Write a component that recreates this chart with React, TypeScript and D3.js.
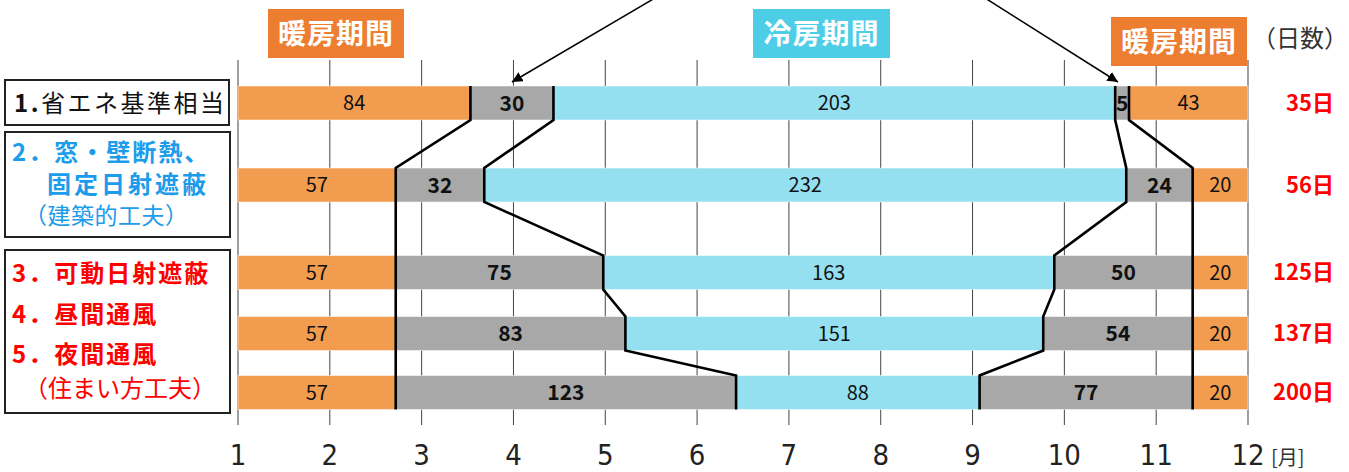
import React from "react";
import * as d3 from "d3";

// ---- data ----
const rowTotals = ["35日", "56日", "125日", "137日", "200日"];
const heating1 = [84, 57, 57, 57, 57];
const inter1 = [30, 32, 75, 83, 123];
const cooling = [203, 232, 163, 151, 88];
const inter2 = [5, 24, 50, 54, 77];
const heating2 = [43, 20, 20, 20, 20];
const monthTicks = [1, 2, 3, 4, 5, 6, 7, 8, 9, 10, 11, 12];
const arrowTargets = [99, 318];

// ---- layout ----
const W = 1349;
const H = 472;
const rowSlots = [0, 1.367, 2.825, 3.842, 4.825];
const barH = 34;
const segColors = ["#F29C50", "#A8A8A8", "#94E0F0", "#A8A8A8", "#F29C50"];
const segBold = [false, true, false, true, false];
const JP = "'Noto Sans CJK JP', 'Noto Sans', sans-serif";

export default function App() {
  const x = d3.scaleLinear().domain([0, 365]).range([238, 1248]);
  const xm = d3.scaleLinear().domain([1, 12]).range([238, 1248]);
  const y = d3.scaleLinear().domain([0, 1]).range([103, 163]);

  const series = [heating1, inter1, cooling, inter2, heating2];
  const rows = rowTotals.map((_, i) => {
    let acc = 0;
    const segs = series.map((s, k) => {
      const v = s[i];
      const seg = { k, v, x0: acc, x1: acc + v };
      acc += v;
      return seg;
    });
    return { i, cy: y(rowSlots[i]), segs };
  });

  const line = d3.line<[number, number]>().x((d) => d[0]).y((d) => d[1]);
  const boundaries = [1, 2, 3, 4].map((b) =>
    rows.flatMap((r) => {
      const bx = x(r.segs[b].x0);
      return [
        [bx, r.cy - barH / 2] as [number, number],
        [bx, r.cy + barH / 2] as [number, number],
      ];
    })
  );

  const arrowStarts: [number, number][] = [
    [655, -2],
    [985, -2],
  ];

  return (
    <svg width={W} height={H} style={{ position: "absolute", left: 0, top: 0 }}>
      <defs>
        <marker id="ah" viewBox="0 0 10 10" refX="10" refY="5" markerWidth="7" markerHeight="7" orient="auto">
          <path d="M0,0 L10,5 L0,10 z" fill="#000" />
        </marker>
      </defs>
      <rect width={W} height={H} fill="#fff" />
      {/* gridlines */}
      {monthTicks.map((m) => (
        <line
          key={m}
          x1={xm(m)}
          x2={xm(m)}
          y1={60}
          y2={425}
          stroke={m === 1 || m === 12 ? "#888" : "#444"}
          strokeWidth={m === 1 || m === 12 ? 1.6 : 1}
        />
      ))}
      {/* bars */}
      {rows.map((r) =>
        r.segs.map((s) => (
          <rect
            key={`${r.i}-${s.k}`}
            x={x(s.x0)}
            y={r.cy - barH / 2}
            width={x(s.x1) - x(s.x0)}
            height={barH}
            fill={segColors[s.k]}
            stroke="#fff"
            strokeOpacity={0.5}
            strokeWidth={1}
          />
        ))
      )}
      {/* bar labels */}
      {rows.map((r) =>
        r.segs.map((s) => (
          <text
            key={`t${r.i}-${s.k}`}
            x={(x(s.x0) + x(s.x1)) / 2}
            y={r.cy}
            dy="0.36em"
            textAnchor="middle"
            fontFamily={JP}
            fontSize={segBold[s.k] ? 21 : 20}
            fontWeight={segBold[s.k] ? 700 : 400}
            fill="#111"
          >
            {s.v}
          </text>
        ))
      )}
      {/* boundary lines */}
      {boundaries.map((pts, b) => (
        <path key={b} d={line(pts) || ""} fill="none" stroke="#000" strokeWidth={2.6} strokeLinejoin="miter" />
      ))}
      {/* arrows */}
      {arrowTargets.map((d, i) => (
        <line
          key={i}
          x1={arrowStarts[i][0]}
          y1={arrowStarts[i][1]}
          x2={x(d)}
          y2={82}
          stroke="#000"
          strokeWidth={1.5}
          markerEnd="url(#ah)"
        />
      ))}
      {/* period labels */}
      <rect x={268} y={9} width={136} height={49} fill="#ED7D31" />
      <text x={336} y={33.5} dy="0.36em" textAnchor="middle" fontFamily={JP} fontSize={28} fontWeight={700} fill="#fff" letterSpacing={1}>
        暖房期間
      </text>
      <rect x={753} y={9} width={137} height={49} fill="#4DCDE6" />
      <text x={821.5} y={33.5} dy="0.36em" textAnchor="middle" fontFamily={JP} fontSize={28} fontWeight={700} fill="#fff" letterSpacing={1}>
        冷房期間
      </text>
      <rect x={1111} y={17} width={136} height={49} fill="#ED7D31" />
      <text x={1179} y={41.5} dy="0.36em" textAnchor="middle" fontFamily={JP} fontSize={28} fontWeight={700} fill="#fff" letterSpacing={1}>
        暖房期間
      </text>
      <text x={1252} y={38} dy="0.36em" fontFamily={JP} fontSize={24} fill="#333">
        （日数）
      </text>
      {/* row totals */}
      {rows.map((r) => (
        <text
          key={`tot${r.i}`}
          x={1334}
          y={r.cy}
          dy="0.36em"
          textAnchor="end"
          fontFamily={JP}
          fontSize={22}
          fontWeight={700}
          fill="#FF0000"
        >
          {rowTotals[r.i]}
        </text>
      ))}
      {/* left legend boxes */}
      <rect x={5} y={80} width={224} height={45} fill="#fff" stroke="#222" strokeWidth={2} />
      <text x={14} y={103} dy="0.36em" fontFamily={JP} fontSize={24} fill="#111" letterSpacing={2.5}>
        <tspan fontWeight={700}>1.</tspan>
        <tspan>省エネ基準相当</tspan>
      </text>
      <rect x={5} y={132} width={225} height={105} fill="#fff" stroke="#222" strokeWidth={2} />
      <text x={12} y={152} dy="0.36em" fontFamily={JP} fontSize={24} fontWeight={700} fill="#1C9CEA" letterSpacing={2}>
        2．窓・壁断熱、
      </text>
      <text x={47} y={184} dy="0.36em" fontFamily={JP} fontSize={24} fontWeight={700} fill="#1C9CEA" letterSpacing={3}>
        固定日射遮蔽
      </text>
      <text x={24} y={216} dy="0.36em" fontFamily={JP} fontSize={23} fill="#1C9CEA" letterSpacing={0.5}>
        （建築的工夫）
      </text>
      <rect x={5} y={250} width={225} height={163} fill="#fff" stroke="#222" strokeWidth={2} />
      <text x={12} y={273} dy="0.36em" fontFamily={JP} fontSize={24} fontWeight={700} fill="#FF0000" letterSpacing={2}>
        3．可動日射遮蔽
      </text>
      <text x={12} y={314} dy="0.36em" fontFamily={JP} fontSize={24} fontWeight={700} fill="#FF0000" letterSpacing={2}>
        4．昼間通風
      </text>
      <text x={12} y={354} dy="0.36em" fontFamily={JP} fontSize={24} fontWeight={700} fill="#FF0000" letterSpacing={2}>
        5．夜間通風
      </text>
      <text x={24} y={388} dy="0.36em" fontFamily={JP} fontSize={24} fill="#FF0000">
        （住まい方工夫）
      </text>
      {/* x axis labels */}
      {monthTicks.map((m) => (
        <text
          key={`m${m}`}
          x={xm(m)}
          y={465}
          textAnchor="middle"
          fontFamily="'Liberation Sans Narrow', 'DejaVu Sans Condensed', sans-serif"
          fontSize={29}
          fill="#222"
        >
          {m}
        </text>
      ))}
      <text x={1271} y={465} fontFamily={JP} fontSize={20} fill="#333">
        [月]
      </text>
    </svg>
  );
}
